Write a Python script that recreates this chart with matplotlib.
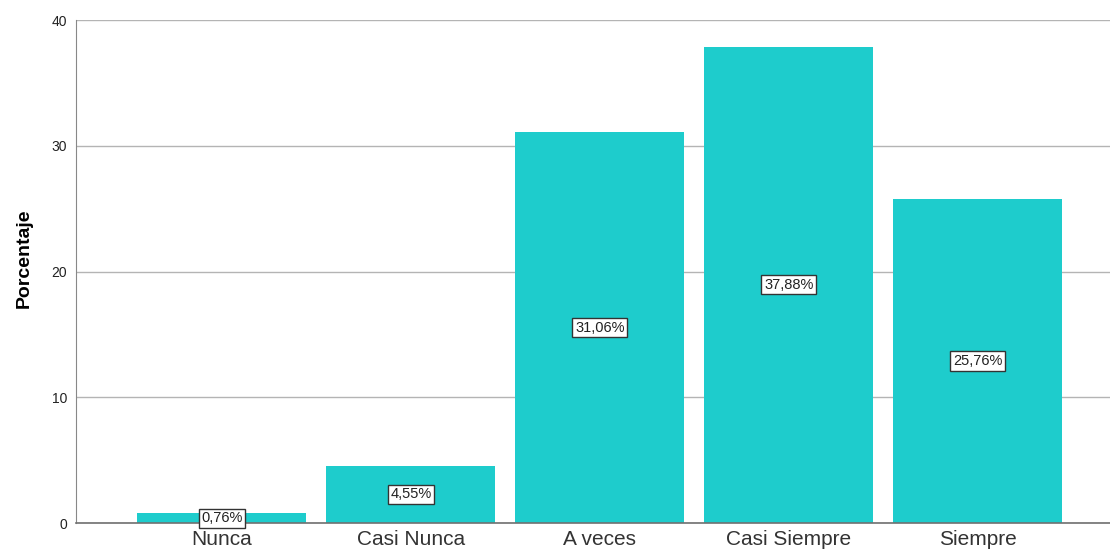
import matplotlib
matplotlib.use("Agg")
import matplotlib.pyplot as plt

categorias = ["Nunca", "Casi Nunca", "A veces", "Casi Siempre", "Siempre"]
porcentajes = [0.76, 4.55, 31.06, 37.88, 25.76]
etiquetas = ["0,76%", "4,55%", "31,06%", "37,88%", "25,76%"]
yticks = [0, 10, 20, 30, 40]

plt.rcParams['font.family'] = ['Liberation Sans', 'DejaVu Sans']

fig = plt.figure(figsize=(11.1, 5.53), dpi=100)
ax = fig.add_axes([0.0685, 0.0542, 0.9315, 0.9096])

x = range(len(categorias))
ax.bar(x, porcentajes, width=0.895, color="#1ecccc", zorder=2)

for xi, v, lab in zip(x, porcentajes, etiquetas):
    ax.text(xi, v / 2, lab, ha="center", va="center", fontsize=10.5, color="#222222", zorder=3,
            bbox=dict(boxstyle="square,pad=0.18", facecolor="white", edgecolor="#333333", linewidth=1))

ax.set_xlim(-0.772, 4.70)
ax.set_ylim(0, 40)
ax.set_yticks(yticks)
ax.set_xticks(list(x))
ax.set_xticklabels(categorias, fontsize=15, color="#333333")
ax.tick_params(axis="x", length=0, pad=5)
ax.tick_params(axis="y", length=0, labelsize=10, pad=6.5, labelcolor="#222222")
ax.yaxis.grid(True, color="#b4b4b4", linewidth=1, zorder=0)
ax.set_axisbelow(True)
ax.set_ylabel("Porcentaje", fontsize=14, fontweight="bold")
ax.yaxis.set_label_coords(-0.042, 0.527)

for s in ["top", "right"]:
    ax.spines[s].set_visible(False)
ax.spines["left"].set_color("#888888")
ax.spines["bottom"].set_color("#707070")
ax.spines["bottom"].set_linewidth(1.2)

fig.savefig("out.png", dpi=100)
